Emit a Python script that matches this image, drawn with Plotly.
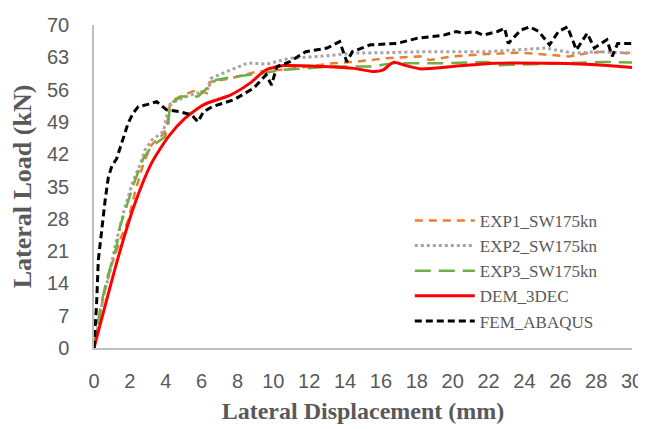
import plotly.graph_objects as go

# EXP1_SW175kn
exp1_x = [0, 0.52, 0.9, 1.45, 1.91, 2.3, 2.8, 3.2, 3.9, 4.1, 4.25, 4.8, 5.7, 6.3, 6.5, 7.6, 9.1, 10.5, 12,
          13.3, 14.5, 16.3, 18.2, 18.7, 20, 21.9, 23.8, 26, 26.5, 27.5, 28.4, 29.7, 30]
exp1_y = [0, 11.1, 17, 23.4, 27.7, 34, 40.5, 44, 46.5, 49, 53.4, 54.5, 55.9, 55.2, 57.7, 58.4, 59.9, 60.3, 61,
          61.7, 62, 62.8, 63.2, 62.4, 63.2, 63.7, 64, 63.4, 63.2, 63.9, 64.2, 63.9, 64]

# EXP2_SW175kn
exp2_x = [0, 0.52, 0.89, 1.17, 1.73, 2.2, 2.57, 2.84, 3.2, 3.87, 4.05, 4.3, 4.9, 5.7, 6.3, 6.5, 7.4, 8.6,
          9.6, 10.9, 12.6, 14.5, 16.3, 18.2, 21.9, 23.4, 25.2, 26.7, 28.2, 29.5, 30]
exp2_y = [0, 11.1, 16.5, 22, 30.6, 36.4, 39.7, 42.9, 45, 46.9, 50.2, 53, 54.1, 55.2, 55.6, 58.4, 59.9, 61.8,
          61.5, 62.8, 63.2, 63.9, 64, 64.2, 64.2, 64.6, 65, 63.9, 64.2, 64, 64]

# EXP3_SW175kn
exp3_x = [0, 0.33, 0.7, 1.26, 1.45, 2.29, 2.75, 3.2, 3.96, 4.15, 4.24, 4.9, 5.8, 6.3, 6.8, 7.8, 9.3, 10.6,
          13.2, 15.4, 16.7, 19.3, 21.9, 22.6, 25.6, 28.4, 30]
exp3_y = [0, 8.2, 14.7, 22, 26.3, 36.4, 41.1, 43.6, 45.8, 48.7, 53, 54.5, 54.5, 56.3, 58.1, 58.8, 59.5, 60.3,
          61, 61, 61.7, 61.7, 62, 61.3, 61.7, 62, 61.9]

# DEM_3DEC
dem_x = [0, 1.36, 2.29, 3.2, 4.15, 5.08, 6.1, 7.6, 8.7, 9.6, 10.6, 12.8, 14.5, 15.6, 16.1, 16.7, 17.3,
         18.2, 20, 22.3, 25.6, 28.4, 30]
dem_y = [0, 19.8, 31.4, 40, 45.8, 49.8, 52.7, 54.8, 57.4, 60.3, 61.2, 61, 60.6, 59.9, 60.2, 61.9, 61.3,
         60.5, 61, 61.7, 61.7, 61.3, 60.8]

# FEM_ABAQUS
fem_x = [0, 0.15, 0.24, 0.45, 0.62, 0.8, 1.0, 1.26, 1.5, 1.9, 2.2, 2.47, 3.0, 3.5, 4.05, 4.8, 5.45, 5.8,
         6.1, 6.6, 7.8, 8.9, 9.6, 9.9, 10.2, 10.9, 11.8, 13, 13.7, 14.1, 14.4, 15.4, 16.9, 18, 19.5, 20.2,
         20.6, 21.2, 21.7, 22.5, 22.9, 23.1, 23.8, 24.3, 24.8, 25.4, 25.9, 26.4, 26.9, 27.5, 27.9, 28.6,
         28.9, 29.2, 30]
fem_y = [0, 10, 19, 27, 32, 37, 39.5, 41, 44, 48.7, 51, 52.3, 52.8, 53.4, 51.6, 51.2, 50.5, 49,
         51.2, 52.3, 53.8, 56.3, 59.2, 57, 61, 62, 64.2, 65, 66.4, 62, 64.2, 65.7, 66, 67.1, 67.8, 68.6,
         68.2, 68.6, 67.8, 68.6, 69.3, 66, 68.9, 69.6, 68.6, 65.7, 68.6, 69.6, 64.6, 68.2, 65, 66.8,
         63.2, 66, 66]

x_ticks = list(range(0, 31, 2))
y_ticks = list(range(0, 71, 7))

TEXT_GREY = "#595959"
AXIS_GREY = "#bfbfbf"

fig = go.Figure()
fig.add_trace(go.Scatter(x=exp1_x, y=exp1_y, name="EXP1_SW175kn", mode="lines",
                         line=dict(color="#ED7D31", width=2.5, dash="8px,6px")))
fig.add_trace(go.Scatter(x=exp2_x, y=exp2_y, name="EXP2_SW175kn", mode="lines",
                         line=dict(color="#A5A5A5", width=3, dash="dot")))
fig.add_trace(go.Scatter(x=exp3_x, y=exp3_y, name="EXP3_SW175kn", mode="lines",
                         line=dict(color="#70AD47", width=2.5, dash="16px,8px")))
fig.add_trace(go.Scatter(x=dem_x, y=dem_y, name="DEM_3DEC", mode="lines",
                         line=dict(color="#FF0000", width=3, shape="spline", smoothing=0.6)))
fig.add_trace(go.Scatter(x=fem_x, y=fem_y, name="FEM_ABAQUS", mode="lines",
                         line=dict(color="#000000", width=3, dash="7px,4px")))

# page body has an 8px margin, so the figure is sized/offset to land the plot at the right pixels
fig.update_layout(
    width=638, height=421,
    margin=dict(l=86, r=14, t=17, b=81),
    paper_bgcolor="white", plot_bgcolor="white",
    font=dict(family="Liberation Sans", color=TEXT_GREY, size=20),
    legend=dict(
        x=0.587, y=0.449, xanchor="left", yanchor="top",
        bgcolor="rgba(0,0,0,0)",
        font=dict(family="Liberation Serif", size=17, color=TEXT_GREY),
        itemwidth=60, tracegroupgap=0,
    ),
    xaxis=dict(
        range=[0, 30], tickvals=x_ticks, showgrid=False, zeroline=False,
        showline=True, linecolor=AXIS_GREY, linewidth=1.5, ticks="",
        ticklabelstandoff=14, ticklabeloverflow="allow", automargin=False,
        title=dict(text="<b>Lateral Displacement (mm)</b>", standoff=11,
                   font=dict(family="Liberation Serif", size=24, color=TEXT_GREY)),
    ),
    yaxis=dict(
        range=[0, 70], tickvals=y_ticks, showgrid=False, zeroline=False,
        showline=True, linecolor=AXIS_GREY, linewidth=1.5, ticks="",
        ticklabelstandoff=19, automargin=False,
        title=dict(text="<b>Lateral Load (kN)</b>", standoff=8,
                   font=dict(family="Liberation Serif", size=26, color=TEXT_GREY)),
    ),
)

fig.write_html("out.html")
